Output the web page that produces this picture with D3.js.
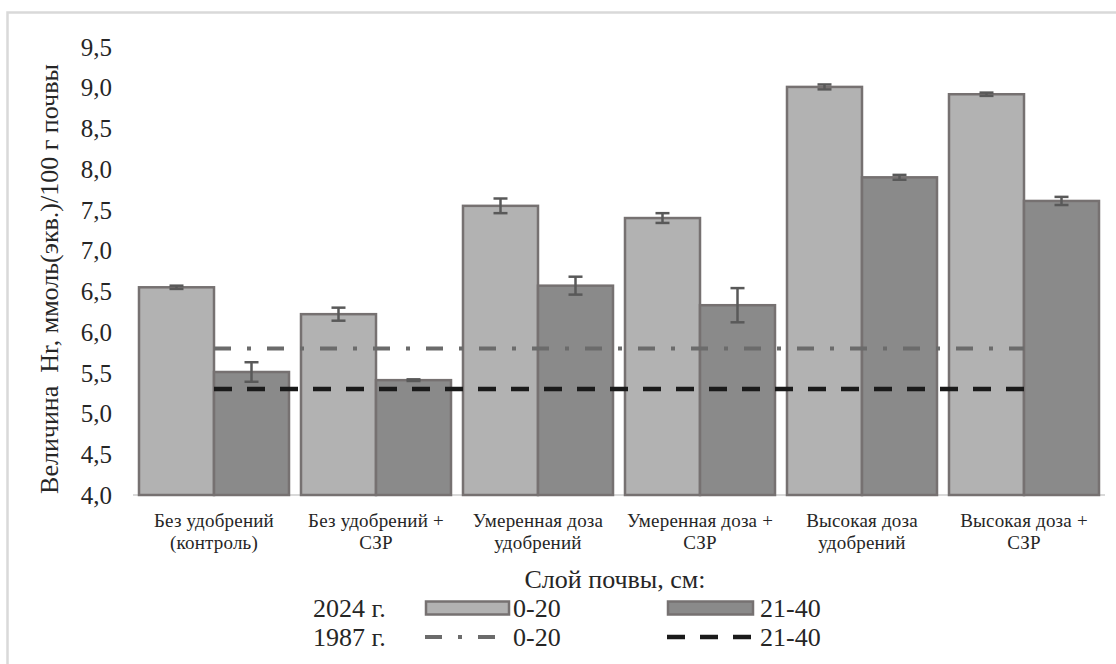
<!DOCTYPE html>
<html><head><meta charset="utf-8">
<script src="https://cdn.jsdelivr.net/npm/d3@7"></script>
<style>
html,body{margin:0;padding:0;background:#fff;}
</style></head>
<body>
<svg id="chart" width="1116" height="664"></svg>
<script>
const categories = [
  ["Без удобрений", "(контроль)"],
  ["Без удобрений +", "СЗР"],
  ["Умеренная доза", "удобрений"],
  ["Умеренная доза +", "СЗР"],
  ["Высокая доза", "удобрений"],
  ["Высокая доза +", "СЗР"]
];
const series2024_0_20 = [6.55, 6.22, 7.55, 7.40, 9.01, 8.92];
const err2024_0_20 = [0.02, 0.08, 0.09, 0.06, 0.03, 0.02];
const series2024_21_40 = [5.51, 5.41, 6.57, 6.33, 7.90, 7.61];
const err2024_21_40 = [0.12, 0.01, 0.11, 0.21, 0.03, 0.05];
const series1987_0_20 = [5.8, 5.8, 5.8, 5.8, 5.8, 5.8];
const series1987_21_40 = [5.3, 5.3, 5.3, 5.3, 5.3, 5.3];
const yTicks = [4.0, 4.5, 5.0, 5.5, 6.0, 6.5, 7.0, 7.5, 8.0, 8.5, 9.0, 9.5];
const yTitle = "Величина  Hr, ммоль(экв.)/100 г почвы";
const legendTitle = "Слой почвы, см:";
const legendYears = ["2024 г.", "1987 г."];
const legendLayers = ["0-20", "21-40"];

const FONT = '"Liberation Serif", "Times New Roman", serif';
const TXT = "#262626";
const svg = d3.select("#chart").style("font-family", FONT);
const fmt = v => v.toFixed(1).replace(".", ",");

// outer border
svg.append("rect").attr("x", 7.5).attr("y", 12.5).attr("width", 1130).attr("height", 700)
  .attr("fill", "none").attr("stroke", "#d9d9d9").attr("stroke-width", 2.5);

const x0 = d3.scaleBand().domain(d3.range(categories.length)).range([133, 1105])
  .paddingInner(0.074).paddingOuter(0.037);
const x1 = d3.scaleBand().domain([0, 1]).range([0, x0.bandwidth()]);
const y = d3.scaleLinear().domain([4, 9.5]).range([495, 47]);

// y tick labels
svg.append("g").selectAll("text").data(yTicks).join("text")
  .attr("x", 112).attr("y", d => y(d)).attr("dy", "0.35em")
  .attr("text-anchor", "end").attr("font-size", 25).attr("fill", TXT)
  .text(fmt);

// y title
svg.append("text").attr("transform", `translate(58,279) rotate(-90)`)
  .attr("text-anchor", "middle").attr("font-size", 26).attr("fill", TXT)
  .style("white-space", "pre").text(yTitle);

// baseline
svg.append("line").attr("x1", 133).attr("x2", 1105).attr("y1", 495).attr("y2", 495)
  .attr("stroke", "#d9d9d9").attr("stroke-width", 2);

const seriesList = [
  {vals: series2024_0_20, errs: err2024_0_20, fill: "#b2b2b2"},
  {vals: series2024_21_40, errs: err2024_21_40, fill: "#8a8a8a"}
];
const gBars = svg.append("g");
seriesList.forEach((s, si) => {
  gBars.append("g").selectAll("rect").data(s.vals).join("rect")
    .attr("x", (d, i) => x0(i) + x1(si))
    .attr("y", d => y(d))
    .attr("width", x1.bandwidth())
    .attr("height", d => y(4) - y(d))
    .attr("fill", s.fill).attr("stroke", "#767171").attr("stroke-width", 2.5);
});
seriesList.forEach((s, si) => {
  const g = svg.append("g").attr("stroke", "#595959").attr("stroke-width", 2.5);
  s.vals.forEach((v, i) => {
    const cx = x0(i) + x1(si) + x1.bandwidth() / 2;
    const e = s.errs[i];
    g.append("line").attr("x1", cx).attr("x2", cx).attr("y1", y(v + e)).attr("y2", y(v - e));
    g.append("line").attr("x1", cx - 7).attr("x2", cx + 7).attr("y1", y(v + e)).attr("y2", y(v + e));
    g.append("line").attr("x1", cx - 7).attr("x2", cx + 7).attr("y1", y(v - e)).attr("y2", y(v - e));
  });
});

const cxCat = i => x0(i) + x0.bandwidth() / 2;
const line = d3.line().x((d, i) => cxCat(i)).y(d => y(d));
svg.append("path").datum(series1987_0_20).attr("d", line)
  .attr("fill", "none").attr("stroke", "#6b6b6b").attr("stroke-width", 4)
  .attr("stroke-dasharray", "17,16,4,16");
svg.append("path").datum(series1987_21_40).attr("d", line)
  .attr("fill", "none").attr("stroke", "#1a1a1a").attr("stroke-width", 4.5)
  .attr("stroke-dasharray", "18,15");

const gCat = svg.append("g").attr("font-size", 19).attr("fill", TXT).attr("text-anchor", "middle")
  .attr("letter-spacing", "0.2");
categories.forEach((c, i) => {
  c.forEach((t, li) => {
    gCat.append("text").attr("x", cxCat(i)).attr("y", 527 + li * 22).text(t);
  });
});

const lg = svg.append("g").attr("font-size", 26).attr("fill", TXT);
lg.append("text").attr("x", 615).attr("y", 588).attr("text-anchor", "middle").text(legendTitle);
const rowY = [608, 637];
legendYears.forEach((t, r) => {
  lg.append("text").attr("x", 313).attr("y", rowY[r]).attr("dy", "0.35em").text(t);
});
lg.append("rect").attr("x", 426).attr("y", rowY[0] - 6.5).attr("width", 83).attr("height", 13)
  .attr("fill", "#b2b2b2").attr("stroke", "#767171").attr("stroke-width", 2.5);
lg.append("rect").attr("x", 668).attr("y", rowY[0] - 6.5).attr("width", 85).attr("height", 13)
  .attr("fill", "#8a8a8a").attr("stroke", "#767171").attr("stroke-width", 2.5);
lg.append("line").attr("x1", 425).attr("x2", 510).attr("y1", rowY[1]).attr("y2", rowY[1])
  .attr("stroke", "#6b6b6b").attr("stroke-width", 4).attr("stroke-dasharray", "17,16,4,16");
lg.append("line").attr("x1", 667).attr("x2", 754).attr("y1", rowY[1]).attr("y2", rowY[1])
  .attr("stroke", "#1a1a1a").attr("stroke-width", 4.5).attr("stroke-dasharray", "18,15");
[[513, 0], [760, 1]].forEach(([xx, k]) => {
  legendYears.forEach((_, r) => {
    lg.append("text").attr("x", xx).attr("y", rowY[r]).attr("dy", "0.35em").text(legendLayers[k]);
  });
});
</script>
</body></html>
